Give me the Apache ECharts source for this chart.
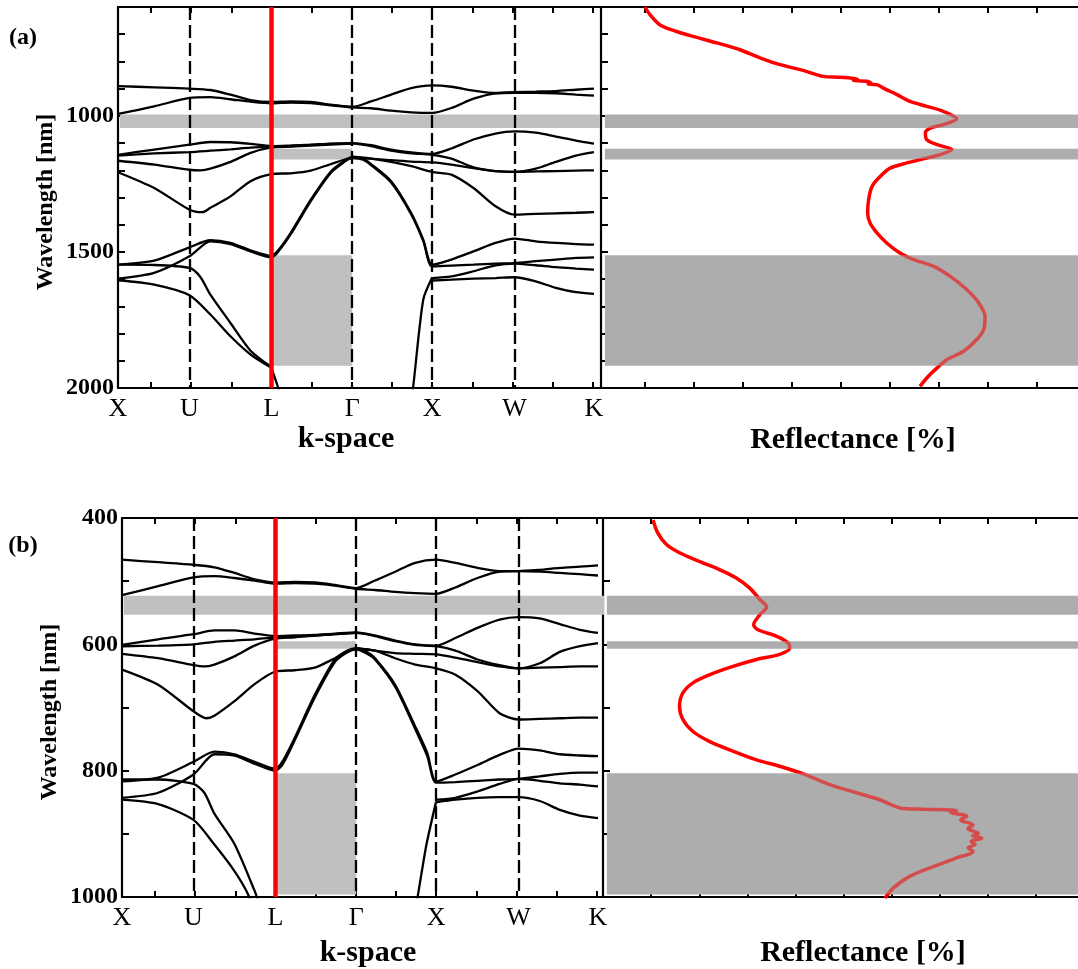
<!DOCTYPE html>
<html>
<head>
<meta charset="utf-8">
<script src="https://cdn.jsdelivr.net/npm/echarts@6/dist/echarts.min.js"></script>
<style>
  html, body { margin: 0; padding: 0; background: #ffffff; }
  #chart { width: 1078px; height: 969px; }
</style>
</head>
<body>
<div id="chart"></div>
<script>
// ---- k-path (high-symmetry points) ----
const kNames = ['X', 'U', 'L', 'Γ', 'X', 'W', 'K'];
const kPos = [0, 1.78, 3.82, 5.83, 7.82, 9.87, 11.85];
const kTicks = [0.82, 1.82, 2.82, 3.82, 4.82, 5.82, 6.82, 7.82, 8.82, 9.82, 10.82, 11.82];
const reflTicks = [10, 20, 30, 40, 50, 60, 70, 80, 90];

// ---- (a) photonic bands: [k, wavelength nm] ----
const bandA1 = [[0,891],[0.9,895],[1.78,900],[2.3,905],[2.8,922],[3.3,942],[3.82,949],[4.3,947],[4.8,949],[5.3,959],[5.83,967],[6.3,947],[6.8,922],[7.3,898],[7.82,888],[8.3,893],[8.85,907],[9.4,916],[9.87,913],[10.4,911],[10.9,909],[11.4,904],[11.85,900]];
const bandA2 = [[0,993],[0.9,965],[1.78,934],[2.3,931],[2.8,939],[3.3,948],[3.82,954],[4.3,951],[4.8,953],[5.3,961],[5.83,969],[6.3,972],[6.8,981],[7.3,987],[7.82,989],[8.3,971],[8.85,937],[9.4,917],[9.87,915],[10.4,915],[10.9,917],[11.4,922],[11.85,926]];
const bandA3 = [[0,1143],[0.9,1124],[1.78,1106],[2.3,1096],[2.8,1097],[3.3,1103],[3.82,1111],[4.3,1109],[4.8,1106],[5.3,1102],[5.83,1100],[6.3,1108],[6.8,1124],[7.3,1134],[7.82,1140],[8.3,1120],[8.85,1087],[9.4,1065],[9.87,1057],[10.4,1062],[10.9,1076],[11.4,1091],[11.85,1102]];
const bandA4 = [[0,1146],[0.9,1138],[1.78,1133],[2.3,1128],[2.8,1123],[3.3,1117],[3.82,1113],[4.3,1111],[4.8,1107],[5.3,1103],[5.83,1101],[6.3,1111],[6.8,1128],[7.3,1138],[7.82,1143],[8.3,1157],[8.85,1189],[9.4,1203],[9.87,1206],[10.4,1194],[10.9,1169],[11.4,1146],[11.85,1133]];
const bandA5 = [[0,1165],[0.9,1179],[1.78,1198],[2.05,1200],[2.3,1194],[2.8,1169],[3.3,1136],[3.82,1116],[4.3,1113],[4.8,1109],[5.3,1106],[5.83,1102]];
const bandA6 = [[0,1207],[0.9,1265],[1.78,1345],[2.1,1354],[2.3,1338],[2.8,1296],[3.3,1240],[3.82,1214],[4.3,1211],[4.8,1201],[5.3,1177],[5.83,1155],[6.3,1157],[6.8,1163],[7.3,1168],[7.82,1171],[8.3,1179],[8.85,1192],[9.4,1203],[9.87,1206],[10.4,1204],[10.9,1203],[11.4,1201],[11.85,1200]];
const bandA7 = [[5.83,1150],[6.3,1157],[6.8,1169],[7.3,1185],[7.82,1206],[8.3,1216],[8.85,1265],[9.4,1332],[9.87,1363],[10.4,1360],[10.9,1358],[11.4,1356],[11.85,1354]];
const bandA8 = [[0,1547],[0.9,1532],[1.78,1483],[2.3,1457],[2.8,1467],[3.3,1494],[3.82,1514],[4.0,1492],[4.3,1430],[4.8,1308],[5.3,1204],[5.6,1169],[5.83,1151],[6.1,1157],[6.3,1177],[6.8,1240],[7.3,1357],[7.6,1455],[7.82,1547],[8.3,1528],[8.85,1498],[9.4,1467],[9.87,1451],[10.4,1461],[10.9,1467],[11.4,1471],[11.85,1473]];
const bandA9 = [[0,1598],[0.9,1577],[1.78,1516],[2.3,1461],[2.8,1471],[3.3,1498],[3.82,1520],[4.0,1497],[4.3,1435],[4.8,1313],[5.3,1209],[5.6,1173],[5.83,1154],[6.1,1161],[6.3,1181],[6.8,1245],[7.3,1362],[7.6,1460],[7.82,1553],[8.3,1550],[8.85,1547],[9.4,1543],[9.87,1541],[10.4,1534],[10.9,1528],[11.4,1522],[11.85,1520]];
const bandA10 = [[7.82,1596],[8.3,1590],[8.85,1571],[9.4,1549],[9.87,1543],[10.4,1549],[10.9,1556],[11.4,1561],[11.85,1565]];
const bandA11 = [[7.82,1605],[8.3,1602],[8.85,1598],[9.4,1596],[9.87,1593],[10.4,1608],[10.9,1632],[11.4,1648],[11.85,1654]];
const bandA12 = [[0,1547],[0.9,1548],[1.78,1559],[2.05,1592],[2.3,1657],[2.8,1761],[3.3,1863],[3.82,1923]];
const bandA13 = [[0,1604],[0.9,1620],[1.78,1659],[2.3,1730],[2.8,1810],[3.3,1877],[3.82,1926]];
const bandA14 = [[3.82,1926],[3.99,2000],[4.1,2050]];
const bandA15 = [[7.82,1595],[7.6,1675],[7.35,1994],[7.28,2060]];

// ---- (b) photonic bands ----
const bandB1 = [[0,466],[0.9,470],[1.78,474],[2.3,478],[2.8,487],[3.3,497],[3.82,502],[4.3,501],[4.8,502],[5.3,506],[5.83,511],[6.3,499],[6.8,485],[7.3,471],[7.82,466],[8.3,471],[8.85,479],[9.4,484],[9.87,484],[10.4,482],[10.9,479],[11.4,477],[11.85,475]];
const bandB2 = [[0,522],[0.9,508],[1.78,494],[2.3,492],[2.8,495],[3.3,499],[3.82,504],[4.3,503],[4.8,504],[5.3,507],[5.83,512],[6.3,514],[6.8,517],[7.3,519],[7.82,520],[8.3,510],[8.85,495],[9.4,485],[9.87,484],[10.4,485],[10.9,487],[11.4,489],[11.85,491]];
const bandB3 = [[0,601],[0.9,592],[1.78,584],[2.3,578],[2.8,578],[3.3,583],[3.82,587],[4.3,586],[4.8,585],[5.3,583],[5.83,581],[6.3,586],[6.8,594],[7.3,600],[7.82,602],[8.3,590],[8.85,574],[9.4,561],[9.87,557],[10.4,559],[10.9,568],[11.4,577],[11.85,582]];
const bandB4 = [[0,603],[0.9,602],[1.78,600],[2.3,596],[2.8,594],[3.3,592],[3.82,589],[4.3,588],[4.8,586],[5.3,584],[5.83,582],[6.3,587],[6.8,595],[7.3,601],[7.82,603],[8.3,610],[8.85,624],[9.4,633],[9.87,638],[10.4,630],[10.9,612],[11.4,603],[11.85,598]];
const bandB5 = [[0,615],[0.9,622],[1.78,633],[2.05,635],[2.3,632],[2.8,619],[3.3,602],[3.82,591],[4.3,589],[4.8,586],[5.3,584],[5.83,582]];
const bandB6 = [[0,640],[0.9,664],[1.78,706],[2.1,717],[2.3,713],[2.8,690],[3.3,663],[3.82,643],[4.3,641],[4.8,637],[5.3,622],[5.83,607],[6.3,610],[6.8,614],[7.3,615],[7.82,616],[8.3,621],[8.85,628],[9.4,635],[9.87,638],[10.4,637],[10.9,636],[11.4,635],[11.85,635]];
const bandB7 = [[5.83,606],[6.3,610],[6.8,622],[7.3,632],[7.82,638],[8.3,648],[8.85,674],[9.4,709],[9.87,719],[10.4,718],[10.9,717],[11.4,716],[11.85,716]];
const bandB8 = [[0,817],[0.9,811],[1.78,786],[2.3,770],[2.8,774],[3.3,786],[3.82,797],[4.0,785],[4.3,748],[4.8,680],[5.3,624],[5.6,610],[5.83,606],[6.1,612],[6.3,622],[6.8,664],[7.3,730],[7.6,772],[7.82,817],[8.3,806],[8.85,791],[9.4,775],[9.87,765],[10.4,768],[10.9,774],[11.4,776],[11.85,777]];
const bandB9 = [[0,843],[0.9,835],[1.78,806],[2.3,774],[2.8,776],[3.3,789],[3.82,800],[4.0,790],[4.3,752],[4.8,684],[5.3,628],[5.6,613],[5.83,608],[6.1,615],[6.3,624],[6.8,667],[7.3,734],[7.6,777],[7.82,819],[8.3,818],[8.85,816],[9.4,814],[9.87,813],[10.4,809],[10.9,805],[11.4,803],[11.85,803]];
const bandB10 = [[7.82,846],[8.3,843],[8.85,833],[9.4,821],[9.87,813],[10.4,816],[10.9,820],[11.4,822],[11.85,825]];
const bandB11 = [[7.82,850],[8.3,846],[8.85,843],[9.4,842],[9.87,842],[10.4,848],[10.9,862],[11.4,871],[11.85,875]];
const bandB12 = [[0,814],[0.9,814],[1.78,821],[2.05,835],[2.3,868],[2.8,916],[3.3,990],[3.4,1008]];
const bandB13 = [[0,846],[0.9,853],[1.78,878],[2.3,917],[2.8,959],[3.14,996],[3.25,1020]];
const bandB14 = [[7.82,849],[7.58,917],[7.37,996],[7.3,1020]];

// ---- photonic stop gaps [from, to] nm ----
const gapsA = [[995, 1045], [1121, 1160], [1512, 1918]];
const gapsB = [[523, 553], [595, 607], [804, 996]];

// ---- measured reflectance: [R %, wavelength nm] ----
const reflA = [[10,600],[11,628],[13,665],[16.5,690],[19.8,708],[24.7,732],[29.4,757],[33.5,787],[37.6,812],[42.3,833],[46.4,855],[49.5,858],[51.9,861],[53.5,866],[52.6,869],[55.3,873],[56.2,880],[55.6,883],[57.5,886],[58.7,898],[61.5,922],[64.2,947],[67.6,965],[71,984],[73.7,1011],[71,1032],[68.3,1045],[67.3,1063],[67.6,1088],[69.7,1106],[72.7,1124],[70.3,1143],[66.9,1158],[63.5,1173],[60.1,1192],[58.1,1222],[56.4,1259],[55.7,1308],[55.5,1357],[56,1394],[57.4,1430],[59.4,1467],[62.1,1504],[64.9,1528],[69,1553],[72.4,1590],[75.8,1639],[78.2,1687],[79.5,1737],[79.2,1786],[77.8,1822],[75.1,1865],[71.7,1896],[69.7,1926],[67.9,1957],[66.2,1994]];
const reflB = [[10.4,403],[11.4,424],[13.2,442],[15.9,455],[20.1,469],[24.3,482],[27.7,495],[30.5,511],[32.6,529],[34,541],[32.6,553],[31.3,569],[32.2,577],[36,587],[38.5,598],[38.8,606],[36.7,616],[31.9,624],[27,635],[22.2,648],[18.7,661],[16.6,677],[15.9,698],[16.6,719],[18.7,738],[22.2,754],[27,769],[31.9,783],[36.7,793],[41.6,805],[47.1,822],[52.7,835],[57.5,846],[61.7,859],[66.5,861],[73.5,863],[72.2,866],[75.6,872],[74.3,878],[76.9,886],[75.8,892],[78,899],[76.8,903],[78.7,907],[76.5,912],[77.3,917],[75.9,922],[76.9,928],[73.5,938],[68.6,952],[63.8,967],[60.3,986],[58.6,1002]];

const bandsA = [bandA1,bandA2,bandA3,bandA4,bandA5,bandA6,bandA7,bandA8,bandA9,bandA10,bandA11,bandA12,bandA13,bandA14,bandA15];
const bandsB = [bandB1,bandB2,bandB3,bandB4,bandB5,bandB6,bandB7,bandB8,bandB9,bandB10,bandB11,bandB12,bandB13,bandB14];

const SERIF = "'Liberation Serif', 'DejaVu Serif', serif";
const BLACK = '#000000';

function kLabel(v) {
  for (let i = 0; i < kPos.length; i++) if (Math.abs(kPos[i] - v) < 1e-6) return kNames[i];
  return '';
}

function xAxisDef(gridIndex, position, min, max, ticks, labelValues) {
  return {
    type: 'value', gridIndex, position, min, max,
    axisLine: { show: true, onZero: false, lineStyle: { color: BLACK, width: 2.2 } },
    axisTick: { show: true, inside: true, length: 6, customValues: ticks, lineStyle: { color: BLACK, width: 2 } },
    axisLabel: labelValues ? {
      show: true, customValues: labelValues, formatter: kLabel, margin: 8,
      color: BLACK, fontFamily: SERIF, fontSize: 26, hideOverlap: false
    } : { show: false },
    splitLine: { show: false }
  };
}

function yAxisDef(gridIndex, min, max, labelStep) {
  return {
    type: 'value', gridIndex, inverse: true, min, max, interval: 100, position: 'left',
    axisLine: { show: true, onZero: false, lineStyle: { color: BLACK, width: 2.2 } },
    axisTick: { show: true, inside: true, length: 7, lineStyle: { color: BLACK, width: 2 } },
    axisLabel: labelStep ? {
      show: true, margin: 4, color: BLACK, fontFamily: SERIF, fontWeight: 'bold', fontSize: 24,
      formatter: v => (v % labelStep === 0 ? String(v) : '')
    } : { show: false },
    splitLine: { show: false }
  };
}

const grids = [
  { left: 118, top: 7, width: 482, height: 381 },
  { left: 601, top: 7, width: 477, height: 381 },
  { left: 122, top: 518, width: 482, height: 379 },
  { left: 603, top: 518, width: 475, height: 379 }
];

const xAxes = [
  xAxisDef(0, 'bottom', 0, 12, kTicks, kPos),
  xAxisDef(0, 'top', 0, 12, kTicks, null),
  xAxisDef(1, 'bottom', 1, 98.5, reflTicks, null),
  xAxisDef(1, 'top', 1, 98.5, reflTicks, null),
  xAxisDef(2, 'bottom', 0, 12, kTicks, kPos),
  xAxisDef(2, 'top', 0, 12, kTicks, null),
  xAxisDef(3, 'bottom', 0, 98.7, reflTicks, null),
  xAxisDef(3, 'top', 0, 98.7, reflTicks, null)
];

const yAxes = [
  yAxisDef(0, 600, 2000, 500),
  yAxisDef(1, 600, 2000, 0),
  yAxisDef(2, 400, 1000, 200),
  yAxisDef(3, 400, 1000, 0)
];

const series = [];

function bandPanel(bands, gaps, xi, yi) {
  // gap shading in the band diagram: first gap across the whole path, others L–Γ
  series.push({
    type: 'line', xAxisIndex: xi, yAxisIndex: yi, data: [], z: 1, silent: true,
    markArea: {
      silent: true, itemStyle: { color: '#c0c0c0' },
      data: gaps.map((g, i) => [
        { xAxis: i === 0 ? 0.05 : kPos[2] + 0.04, yAxis: g[0] },
        { xAxis: i === 0 ? 12 : kPos[3], yAxis: g[1] }
      ])
    }
  });
  bands.forEach(b => series.push({
    type: 'line', xAxisIndex: xi, yAxisIndex: yi, data: b, z: 2, silent: true,
    showSymbol: false, smooth: 0.25, clip: true,
    lineStyle: { color: BLACK, width: 2.3 }
  }));
  // dashed guides at U, Γ, X, W and the L direction in red
  series.push({
    type: 'line', xAxisIndex: xi, yAxisIndex: yi, data: [], z: 3, silent: true,
    markLine: {
      silent: true, symbol: 'none', label: { show: false },
      lineStyle: { color: BLACK, width: 2.3, type: [13, 5] },
      data: [1, 3, 4, 5].map(i => ({ xAxis: kPos[i] }))
    }
  });
  series.push({
    type: 'line', xAxisIndex: xi, yAxisIndex: yi, data: [], z: 4, silent: true,
    markLine: {
      silent: true, symbol: 'none', label: { show: false },
      lineStyle: { color: '#ff0000', width: 4.5, type: 'solid' },
      data: [{ xAxis: kPos[2] }]
    }
  });
}

function reflPanel(refl, gaps, xi, yi, xStart, xEnd) {
  series.push({
    type: 'line', xAxisIndex: xi, yAxisIndex: yi, data: [], z: 1, silent: true,
    markArea: {
      silent: true, itemStyle: { color: '#adadad' },
      data: gaps.map(g => [{ xAxis: xStart, yAxis: g[0] }, { xAxis: xEnd, yAxis: g[1] }])
    }
  });
  series.push({
    type: 'line', xAxisIndex: xi, yAxisIndex: yi, data: refl, z: 2, silent: true,
    showSymbol: false, smooth: 0.3, clip: true,
    lineStyle: { width: 3.5 }
  });
  return series.length - 1;
}

bandPanel(bandsA, gapsA, 0, 0);
const reflAIndex = reflPanel(reflA, gapsA, 2, 1, 1.8, 98.5);
bandPanel(bandsB, gapsB, 4, 2);
const reflBIndex = reflPanel(reflB, gapsB, 6, 3, 0.8, 98.7);

// the curve is paler where it crosses a shaded gap
function gapColouring(idx, gaps) {
  return {
    type: 'piecewise', show: false, seriesIndex: idx, dimension: 1,
    pieces: gaps.map(g => ({ gte: g[0], lte: g[1], color: '#d44c4c' })),
    outOfRange: { color: '#ff0000' }
  };
}

function text(str, x, y, size, rotate) {
  return {
    type: 'text', x, y, rotation: rotate ? Math.PI / 2 : 0, silent: true,
    style: {
      text: str, fill: BLACK, font: 'bold ' + size + 'px ' + SERIF,
      align: 'center', verticalAlign: 'middle'
    }
  };
}

const chart = echarts.init(document.getElementById('chart'), null, { renderer: 'canvas' });
chart.setOption({
  animation: false,
  backgroundColor: '#ffffff',
  grid: grids,
  xAxis: xAxes,
  yAxis: yAxes,
  visualMap: [gapColouring(reflAIndex, gapsA), gapColouring(reflBIndex, gapsB)],
  series: series,
  graphic: [
    text('(a)', 23, 38, 24, false),
    text('(b)', 23, 546, 24, false),
    text('Wavelength [nm]', 46, 202, 24, true),
    text('Wavelength [nm]', 50, 712, 24, true),
    text('k-space', 346, 439, 30, false),
    text('k-space', 368, 953, 30, false),
    text('Reflectance [%]', 853, 440, 30, false),
    text('Reflectance [%]', 863, 953, 30, false)
  ]
});
</script>
</body>
</html>
